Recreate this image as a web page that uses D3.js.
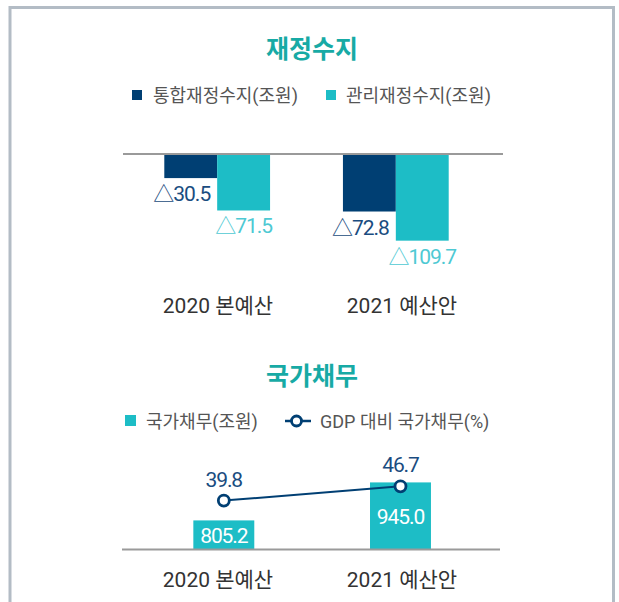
<!DOCTYPE html>
<html>
<head>
<meta charset="utf-8">
<script src="https://cdn.jsdelivr.net/npm/d3@7"></script>
<style>
  body { margin: 0; background: #fff; }
  svg text { font-family: Roboto, "Noto Sans CJK KR", sans-serif; }
</style>
</head>
<body>
<svg id="chart" width="619" height="602"></svg>
<script>
var categories = ["2020 본예산", "2021 예산안"];
var balanceNames = ["통합재정수지(조원)", "관리재정수지(조원)"];
var integratedBalance = [-30.5, -72.8];
var managedBalance = [-71.5, -109.7];
var debtNames = ["국가채무(조원)", "GDP 대비 국가채무(%)"];
var debtAmount = [805.2, 945.0];
var debtRatio = [39.8, 46.7];

var navy = "#003f73", teal = "#1dbdc6", titleColor = "#17aaa5";
var svg = d3.select("#chart");

// frame
svg.append("path")
  .attr("d", "M10,620 V7.5 H613.5 V620")
  .attr("fill", "none").attr("stroke", "#b3bcc5").attr("stroke-width", 3);

function title(txt, y) {
  svg.append("text").attr("x", 312).attr("y", y).attr("text-anchor", "middle")
    .attr("font-size", 25).attr("font-weight", 700).attr("fill", titleColor)
    .style("font-family", "'Noto Sans CJK KR', sans-serif").text(txt);
}
function legendText(txt, x, y) {
  svg.append("text").attr("x", x).attr("y", y).attr("font-size", 18)
    .attr("fill", "#555").text(txt);
}

// ---- 재정수지 ----
title("재정수지", 58);
svg.append("rect").attr("x", 132).attr("y", 90).attr("width", 10).attr("height", 10).attr("fill", navy);
legendText(balanceNames[0], 153, 102);
svg.append("rect").attr("x", 326).attr("y", 90).attr("width", 10).attr("height", 10).attr("fill", teal);
legendText(balanceNames[1], 346, 102);

var x0 = d3.scaleBand().domain(categories).range([125, 488]).paddingInner(0.408).paddingOuter(0.22);
var x1 = d3.scaleBand().domain([0, 1]).range([0, x0.bandwidth()]);
var yBal = d3.scaleLinear().domain([0, -120]).range([154, 154 + 0.79 * 120]);

var balRows = categories.map(function(c, i){
  return { cat: c, vals: [integratedBalance[i], managedBalance[i]] };
});
var groups = svg.selectAll("g.bal").data(balRows).enter().append("g")
  .attr("class", "bal")
  .attr("transform", function(d){ return "translate(" + x0(d.cat) + ",0)"; });
groups.selectAll("rect").data(function(d){ return d.vals; }).enter().append("rect")
  .attr("x", function(d, i){ return x1(i); })
  .attr("y", yBal(0))
  .attr("width", x1.bandwidth())
  .attr("height", function(d){ return yBal(d) - yBal(0); })
  .attr("fill", function(d, i){ return i == 0 ? navy : teal; });
groups.selectAll("text").data(function(d){ return d.vals; }).enter().append("text")
  .attr("x", function(d, i){ return i == 0 ? x1(0) + x1.bandwidth() - 7 : x1(1) + x1.bandwidth() / 2; })
  .attr("y", function(d){ return yBal(d) + 23; })
  .attr("text-anchor", function(d, i){ return i == 0 ? "end" : "middle"; })
  .attr("font-size", 21).attr("letter-spacing", -1)
  .attr("fill", function(d, i){ return i == 0 ? "#1a4c80" : "#4ec9d3"; })
  .text(function(d){ return "△" + Math.abs(d).toFixed(1); });

svg.append("line").attr("x1", 123).attr("x2", 503).attr("y1", 154).attr("y2", 154)
  .attr("stroke", "#9a9a9a").attr("stroke-width", 2);

var xLab = d3.scalePoint().domain(categories).range([218, 402]);
svg.selectAll("text.catTop").data(categories).enter().append("text")
  .attr("class", "catTop")
  .attr("x", function(d){ return xLab(d); }).attr("y", 313)
  .attr("text-anchor", "middle").attr("font-size", 21).attr("fill", "#333")
  .text(function(d){ return d; });

// ---- 국가채무 ----
title("국가채무", 385);
svg.append("rect").attr("x", 125).attr("y", 415).attr("width", 11).attr("height", 11).attr("fill", teal);
legendText(debtNames[0], 146, 428);
svg.append("line").attr("x1", 285).attr("x2", 311).attr("y1", 421).attr("y2", 421)
  .attr("stroke", navy).attr("stroke-width", 2.5);
svg.append("circle").attr("cx", 296.5).attr("cy", 421).attr("r", 5)
  .attr("fill", "#fff").attr("stroke", navy).attr("stroke-width", 2.8);
legendText(debtNames[1], 320, 428);

var xd = d3.scaleBand().domain(categories).range([131.5, 492.8]).paddingInner(0.655).paddingOuter(0.35);
var yDebt = d3.scaleLinear().domain([700, 1000]).range([549, 549 - 0.2718 * 300]);
var yRatio = d3.scaleLinear().domain([0, 50]).range([583, 479.5]);

svg.selectAll("rect.debt").data(debtAmount).enter().append("rect")
  .attr("class", "debt")
  .attr("x", function(d, i){ return xd(categories[i]); })
  .attr("y", function(d){ return yDebt(d); })
  .attr("width", xd.bandwidth())
  .attr("height", function(d){ return yDebt(700) - yDebt(d); })
  .attr("fill", teal);
svg.selectAll("text.debtVal").data(debtAmount).enter().append("text")
  .attr("class", "debtVal")
  .attr("x", function(d, i){ return xd(categories[i]) + xd.bandwidth() / 2; })
  .attr("y", function(d){ return (yDebt(d) + yDebt(700)) / 2 + 8; })
  .attr("text-anchor", "middle").attr("font-size", 21).attr("letter-spacing", -1.1)
  .attr("fill", "#fff").text(function(d){ return d.toFixed(1); });

svg.append("line").attr("x1", 122).attr("x2", 500).attr("y1", 549.5).attr("y2", 549.5)
  .attr("stroke", "#9a9a9a").attr("stroke-width", 2);

var line = d3.line()
  .x(function(d, i){ return xd(categories[i]) + xd.bandwidth() / 2; })
  .y(function(d){ return yRatio(d); });
svg.append("path").datum(debtRatio).attr("d", line)
  .attr("fill", "none").attr("stroke", navy).attr("stroke-width", 2);
svg.selectAll("circle.ratio").data(debtRatio).enter().append("circle")
  .attr("class", "ratio")
  .attr("cx", function(d, i){ return xd(categories[i]) + xd.bandwidth() / 2; })
  .attr("cy", function(d){ return yRatio(d); })
  .attr("r", 5.5).attr("fill", "#fff").attr("stroke", navy).attr("stroke-width", 2.8);
svg.selectAll("text.ratio").data(debtRatio).enter().append("text")
  .attr("class", "ratio")
  .attr("x", function(d, i){ return xd(categories[i]) + xd.bandwidth() / 2; })
  .attr("y", function(d){ return yRatio(d) - 14; })
  .attr("text-anchor", "middle").attr("font-size", 21).attr("letter-spacing", -1.1)
  .attr("fill", "#1a4c80").text(function(d){ return d.toFixed(1); });

svg.selectAll("text.catBot").data(categories).enter().append("text")
  .attr("class", "catBot")
  .attr("x", function(d){ return xLab(d); }).attr("y", 587)
  .attr("text-anchor", "middle").attr("font-size", 21).attr("fill", "#333")
  .text(function(d){ return d; });
</script>
</body>
</html>
